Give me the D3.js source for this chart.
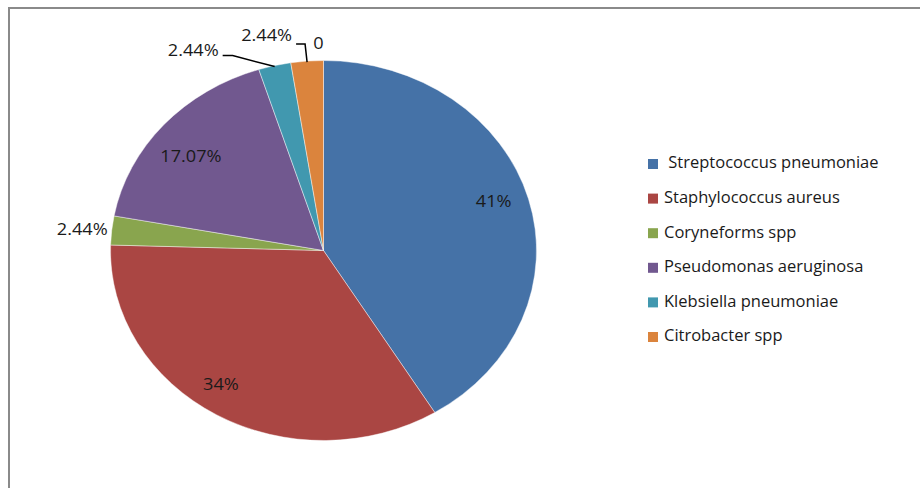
<!DOCTYPE html>
<html>
<head>
<meta charset="utf-8">
<script src="https://cdn.jsdelivr.net/npm/d3@7/dist/d3.min.js"></script>
<style>
  html, body { margin: 0; padding: 0; background: #fff; }
  svg text { font-family: "Open Sans", Lato, sans-serif; fill: #1a1a1a; white-space: pre; }
</style>
</head>
<body>
<svg id="chart" width="920" height="488"></svg>
<script>
// Isolates by organism (share of total)
const organisms = [" Streptococcus pneumoniae", "Staphylococcus aureus", "Coryneforms spp",
                   "Pseudomonas aeruginosa", "Klebsiella pneumoniae", "Citrobacter spp"];
const shares = [41, 34, 2.44, 17.07, 2.44, 2.44];
const shareLabels = ["41%", "34%", "2.44%", "17.07%", "2.44%", "2.44%"];
const zeroLabel = "0";
const colors = ["#4572A7", "#AA4643", "#89A54E", "#71588F", "#4198AF", "#DB843D"];

const W = 920, H = 488;
const cx = 323.5, cy = 250.5, rx = 213, ry = 190;
const fontSize = 16.5;

const svg = d3.select("#chart");
svg.append("rect").attr("width", W).attr("height", H).attr("fill", "#fff");

// frame (top and left edges visible)
svg.append("path")
  .attr("d", `M9,${H} V8 H${W}`)
  .attr("fill", "none").attr("stroke", "#8a8a8a").attr("stroke-width", 2);

const pie = d3.pie().sort(null).value(d => d);
const arcs = pie(shares);
const arc = d3.arc().innerRadius(0).outerRadius(ry);

// pie drawn as a circle and stretched horizontally into an ellipse
const g = svg.append("g").attr("transform", `translate(${cx},${cy}) scale(${rx / ry},1)`);
g.selectAll("path.slice").data(arcs).join("path")
  .attr("class", "slice")
  .attr("d", arc)
  .attr("fill", (d, i) => colors[i])
  .attr("stroke", "rgba(255,255,255,0.55)")
  .attr("stroke-width", 0.8)
  .attr("vector-effect", "non-scaling-stroke");

// point on the stretched pie at angle a (clockwise from top), fraction f of radius
const pt = (a, f) => [cx + rx * f * Math.sin(a), cy - ry * f * Math.cos(a)];
const mid = d => (d.startAngle + d.endAngle) / 2;

// slice labels are slightly widened horizontally, like the pie
function label(sel, x, y, anchor, size, sx) {
  return sel.append("text")
    .attr("transform", `translate(${x},${y}) scale(${sx},1)`)
    .attr("text-anchor", anchor).attr("dominant-baseline", "middle")
    .attr("font-size", size);
}

// labels placed inside the large slices
const inside = [
  { i: 0, f: 0.83, dx: 0, dy: -5 },
  { i: 1, f: 0.82, dx: -15, dy: 0 },
  { i: 3, f: 0.83, dx: 0, dy: 11 }
];
inside.forEach(L => {
  const [x, y] = pt(mid(arcs[L.i]), L.f);
  label(svg, x + L.dx, y + L.dy, "middle", fontSize, 1.1).text(shareLabels[L.i]);
});

// small slice on the left: label just outside the rim
{
  const [x, y] = pt(mid(arcs[2]), 1);
  label(svg, x - 4, y, "end", fontSize, 1.1).text(shareLabels[2]);
}

// small slices at the top: labels with leader lines
const leaders = [
  { i: 4, elbow: [-42, -10], run: -10, dy: -4 },
  { i: 5, elbow: [-2, -17], run: -9, dy: -7 }
];
leaders.forEach(L => {
  const [x0, y0] = pt(mid(arcs[L.i]), 1);
  const ex = x0 + L.elbow[0], ey = y0 + L.elbow[1];
  const tx = ex + L.run;
  svg.append("path")
    .attr("d", `M${x0},${y0 + 1} L${ex},${ey} L${tx},${ey}`)
    .attr("fill", "none").attr("stroke", "#000").attr("stroke-width", 1.5);
  label(svg, tx - 4, ey + L.dy, "end", fontSize, 1.1).text(shareLabels[L.i]);
});

// zero value marker at the top of the pie
{
  const [x, y] = pt(0, 1);
  label(svg, x - 5, y - 16, "middle", fontSize, 1.1).text(zeroLabel);
}

// legend
const legend = svg.append("g").attr("transform", "translate(648,164)");
const rowH = 34.6;
const rows = legend.selectAll("g").data(organisms).join("g")
  .attr("transform", (d, i) => `translate(0,${i * rowH})`);
rows.append("rect")
  .attr("x", 0).attr("y", -5).attr("width", 10).attr("height", 10)
  .attr("fill", (d, i) => colors[i]);
rows.each(function () { label(d3.select(this), 16, 0, "start", 16.5, 1); })
  .select("text").text(d => d);
</script>
</body>
</html>
